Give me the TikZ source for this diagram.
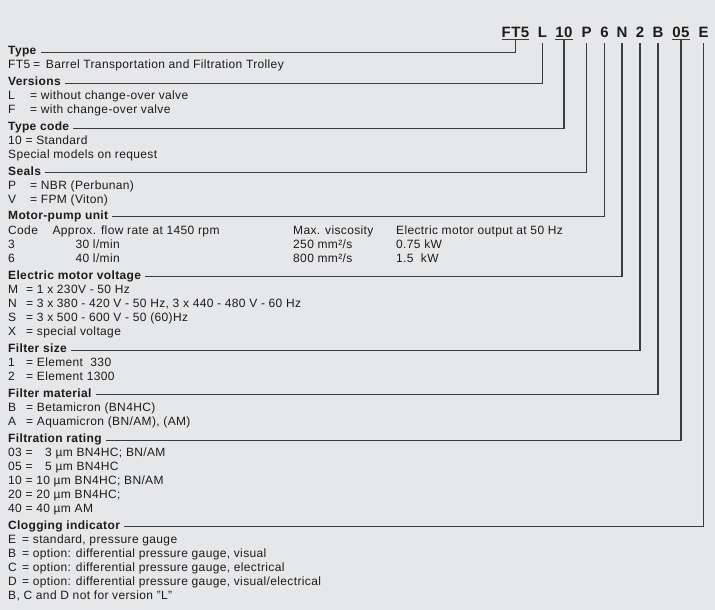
\documentclass[tikz,border=0pt]{standalone}
\usepackage{fontspec}
\setmainfont{Liberation Sans}[LetterSpace=3]
\usetikzlibrary{calc, positioning}
\definecolor{sheet}{RGB}{230, 231, 232}
\definecolor{ink}{RGB}{30, 27, 28}
\definecolor{rule}{RGB}{60, 60, 60}
\newcommand{\kv}[3][22pt]{\makebox[#1][l]{#2}#3}

\begin{document}
\begin{tikzpicture}[x=1pt, y=-1pt,
  head/.style={anchor=base west, inner sep=0, text=ink, font=\fontsize{12}{14}\selectfont\bfseries},
  body/.style={anchor=base west, inner sep=0, text=ink, font=\fontsize{12}{14}\selectfont},
  letter/.style={anchor=base, inner sep=0, text=ink, font=\fontsize{15}{16}\selectfont\bfseries},
  leader/.style={draw=rule, line width=1.1pt}]
  \fill[sheet] (0,0) rectangle (715,610);
  \useasboundingbox (0,0) rectangle (715,610);

  % order code
  \node[letter] (cType) at (515.5,37.7) {FT5};
  \node[letter] (cVers) at (542.5,37.7) {L};
  \node[letter] (cCode) at (564,37.7) {10};
  \node[letter] (cSeal) at (586.5,37.7) {P};
  \node[letter] (cPump) at (604.5,37.7) {6};
  \node[letter] (cVolt) at (622,37.7) {N};
  \node[letter] (cSize) at (640,37.7) {2};
  \node[letter] (cMat) at (658,37.7) {B};
  \node[letter] (cRate) at (681,37.7) {05};
  \node[letter] (cClog) at (703.5,37.7) {E};
  \draw[rule, line width=1pt] ([yshift=-2pt]cType.base west) -- ([yshift=-2pt]cType.base east);
  \draw[rule, line width=1pt] ([yshift=-2pt]cCode.base west) -- ([yshift=-2pt]cCode.base east);
  \draw[rule, line width=1pt] ([yshift=-2pt]cRate.base west) -- ([yshift=-2pt]cRate.base east);

  % Type
  \node[head] (hType) at (8,55) {Type};
  \node[body] (bType) at (8,69) {\kv[25pt]{FT5}{= \,Barrel Transportation and Filtration Trolley}};

  % Versions
  \node[head] (hVers) at (8,85.7) {Versions};
  \node[body] (bVers1) at (8,99.7) {\kv{L}{= without change-over valve}};
  \node[body] (bVers2) at (8,113.7) {\kv{F}{= with change-over valve}};

  % Type code
  \node[head] (hCode) at (8,130.7) {Type code};
  \node[body] (bCode1) at (8,144.7) {10 = Standard};
  \node[body] (bCode2) at (8,158.7) {Special models on request};

  % Seals
  \node[head] (hSeal) at (8,175) {Seals};
  \node[body] (bSeal1) at (8,189) {\kv{P}{= NBR (Perbunan)}};
  \node[body] (bSeal2) at (8,203) {\kv{V}{= FPM (Viton)}};

  % Motor-pump unit
  \node[head] (hPump) at (8,219) {Motor-pump unit};
  \node[body] (tCode) at (8,234) {Code};
  \node[body] (tFlow) at (52.4,234) {Approx. flow rate at 1450 rpm};
  \node[body] (tVisc) at (293,234) {Max. viscosity};
  \node[body] (tPower) at (396,234) {Electric motor output at 50 Hz};
  \node[body] (tCode1) at (8,248) {3};
  \node[body] (tFlow1) at (75.4,248) {30 l/min};
  \node[body] (tVisc1) at (293,248) {250 mm²/s};
  \node[body] (tPower1) at (396,248) {0.75 kW};
  \node[body] (tCode2) at (8,262) {6};
  \node[body] (tFlow2) at (75.4,262) {40 l/min};
  \node[body] (tVisc2) at (293,262) {800 mm²/s};
  \node[body] (tPower2) at (396,262) {1.5 \ kW};

  % Electric motor voltage
  \node[head] (hVolt) at (8,279.3) {Electric motor voltage};
  \node[body] (bVolt1) at (8,293.3) {\kv[18pt]{M}{= 1 x 230V - 50 Hz}};
  \node[body] (bVolt2) at (8,307.3) {\kv[18pt]{N}{= 3 x 380 - 420 V - 50 Hz, 3 x 440 - 480 V - 60 Hz}};
  \node[body] (bVolt3) at (8,321.3) {\kv[18pt]{S}{= 3 x 500 - 600 V - 50 (60)Hz}};
  \node[body] (bVolt4) at (8,335.3) {\kv[18pt]{X}{= special voltage}};

  % Filter size
  \node[head] (hSize) at (8,352.7) {Filter size};
  \node[body] (bSize1) at (8,366.7) {\kv[18pt]{1}{= Element \ 330}};
  \node[body] (bSize2) at (8,380.7) {\kv[18pt]{2}{= Element 1300}};

  % Filter material
  \node[head] (hMat) at (8,397.3) {Filter material};
  \node[body] (bMat1) at (8,411.3) {\kv[18pt]{B}{= Betamicron (BN4HC)}};
  \node[body] (bMat2) at (8,425.3) {\kv[18pt]{A}{= Aquamicron (BN/AM), (AM)}};

  % Filtration rating
  \node[head] (hRate) at (8,442.7) {Filtration rating};
  \node[body] (bRate1) at (8,456.7) {\kv[37pt]{03 =}{3 µm BN4HC; BN/AM}};
  \node[body] (bRate2) at (8,470.7) {\kv[37pt]{05 =}{5 µm BN4HC}};
  \node[body] (bRate3) at (8,484.7) {10 = 10 µm BN4HC; BN/AM};
  \node[body] (bRate4) at (8,498.7) {20 = 20 µm BN4HC;};
  \node[body] (bRate5) at (8,512.7) {40 = 40 µm AM};

  % Clogging indicator
  \node[head] (hClog) at (8,529.3) {Clogging indicator};
  \node[body] (bClog1) at (8,543.3) {\kv[14pt]{E}{= standard, pressure gauge}};
  \node[body] (bClog2) at (8,557.3) {\kv[14pt]{B}{= option: differential pressure gauge, visual}};
  \node[body] (bClog3) at (8,571.3) {\kv[14pt]{C}{= option: differential pressure gauge, electrical}};
  \node[body] (bClog4) at (8,585.3) {\kv[14pt]{D}{= option: differential pressure gauge, visual/electrical}};
  \node[body] (bClog5) at (8,599.3) {B, C and D not for version "L"};

  % leaders
  \draw[leader] ([xshift=4pt]hType.mid east) -| ([yshift=-2pt]cType.base);
  \draw[leader] ([xshift=4pt]hVers.mid east) -| ([yshift=-5pt]cVers.base);
  \draw[leader] ([xshift=4pt]hCode.mid east) -| ([yshift=-2pt]cCode.base);
  \draw[leader] ([xshift=4pt]hSeal.mid east) -| ([yshift=-5pt]cSeal.base);
  \draw[leader] ([xshift=4pt]hPump.mid east) -| ([yshift=-5pt]cPump.base);
  \draw[leader] ([xshift=4pt]hVolt.mid east) -| ([yshift=-5pt]cVolt.base);
  \draw[leader] ([xshift=4pt]hSize.mid east) -| ([yshift=-5pt]cSize.base);
  \draw[leader] ([xshift=4pt]hMat.mid east) -| ([yshift=-5pt]cMat.base);
  \draw[leader] ([xshift=4pt]hRate.mid east) -| ([yshift=-2pt]cRate.base);
  \draw[leader] ([xshift=4pt]hClog.mid east) -| ([yshift=-5pt]cClog.base);
\end{tikzpicture}
\end{document}
